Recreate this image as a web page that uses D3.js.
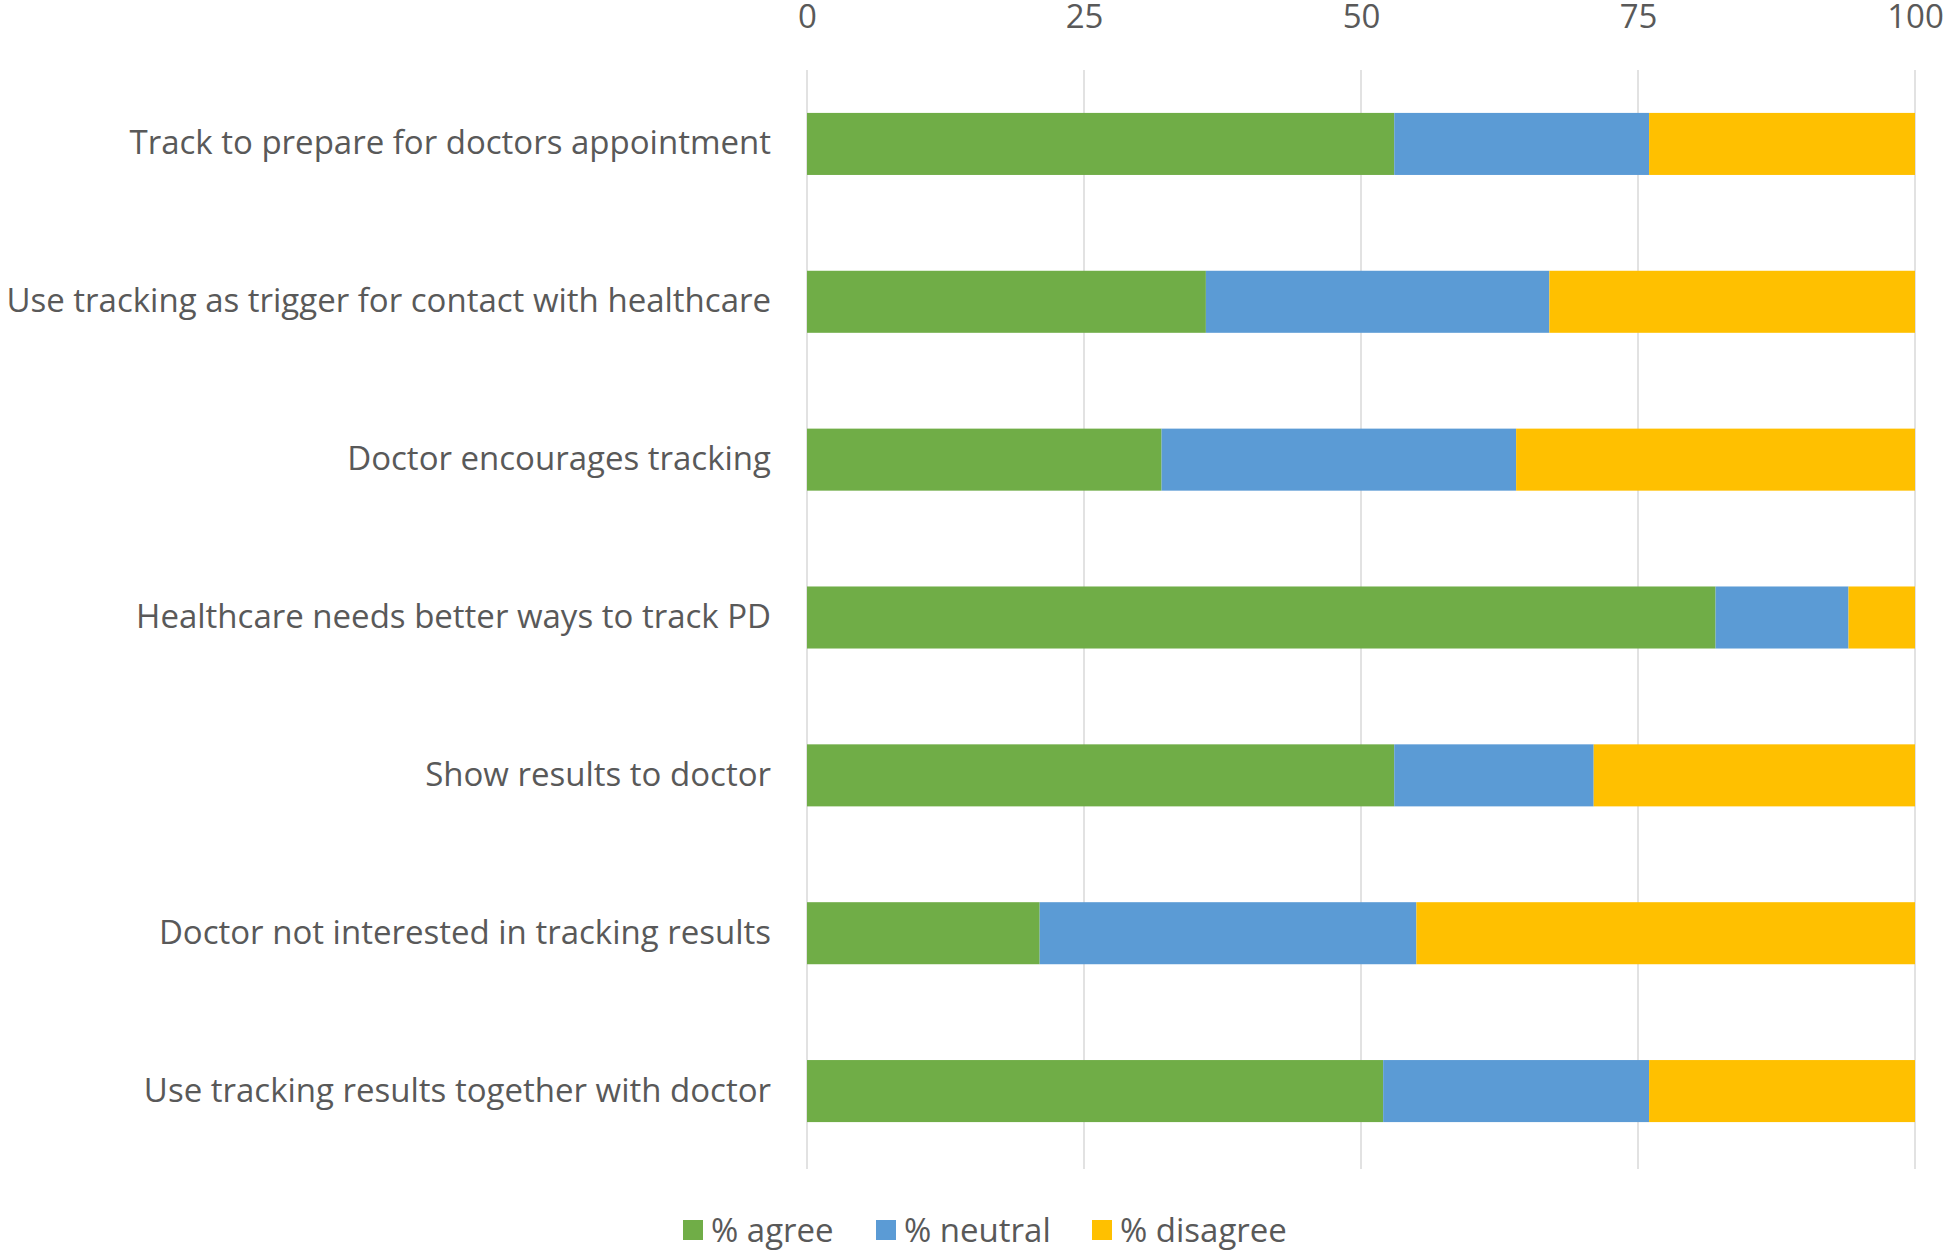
<!DOCTYPE html>
<html>
<head>
<meta charset="utf-8">
<script src="https://cdn.jsdelivr.net/npm/d3@7"></script>
<style>
  html, body { margin: 0; padding: 0; background: #fff; }
  svg { display: block; }
  text { font-family: "Open Sans", Lato, sans-serif; fill: #595959; }
</style>
</head>
<body>
<svg id="chart" width="1946" height="1251"></svg>
<script>
const categories = [
  "Track to prepare for doctors appointment",
  "Use tracking as trigger for contact with healthcare",
  "Doctor encourages tracking",
  "Healthcare needs better ways to track PD",
  "Show results to doctor",
  "Doctor not interested in tracking results",
  "Use tracking results together with doctor"
];
const seriesNames = ["% agree", "% neutral", "% disagree"];
const agree    = [53, 36, 32, 82, 53, 21, 52];
const neutral  = [23, 31, 32, 12, 18, 34, 24];
const disagree = [24, 33, 36,  6, 29, 45, 24];
const tickValues = [0, 25, 50, 75, 100];
const colors = ["#70AD47", "#5B9BD5", "#FFC000"];

const rows = categories.map((c, i) => ({
  category: c, "% agree": agree[i], "% neutral": neutral[i], "% disagree": disagree[i]
}));

const FONT = "'Open Sans', Lato, sans-serif";
const FS = 33;
const svg = d3.select("#chart");
const x = d3.scaleLinear().domain([0, 100]).range([807, 1915]);
const y = d3.scaleBand().domain(categories).range([65, 1170]).paddingInner(0.607).paddingOuter(0.3035);
const color = d3.scaleOrdinal().domain(seriesNames).range(colors);

// gridlines
svg.append("g").selectAll("line").data(tickValues).join("line")
  .attr("x1", d => x(d)).attr("x2", d => x(d))
  .attr("y1", 70).attr("y2", 1169)
  .attr("stroke", "#D9D9D9").attr("stroke-width", 1.5);

// top axis labels
const xAxis = d3.axisTop(x).tickValues(tickValues).tickSize(0).tickPadding(0);
const gx = svg.append("g").attr("transform", "translate(0,28)").call(xAxis);
gx.select(".domain").remove();
gx.selectAll("text").attr("font-size", FS).style("font-family", FONT).attr("fill", "#595959").attr("dy", 0);

// stacked bars
const stack = d3.stack().keys(seriesNames)(rows);
svg.append("g").selectAll("g").data(stack).join("g")
  .attr("fill", d => color(d.key))
  .selectAll("rect").data(d => d).join("rect")
  .attr("x", d => x(d[0]))
  .attr("width", d => x(d[1]) - x(d[0]))
  .attr("y", d => y(d.data.category))
  .attr("height", y.bandwidth());

// category labels
const yAxis = d3.axisLeft(y).tickSize(0).tickPadding(0);
const gy = svg.append("g").attr("transform", "translate(771,0)").call(yAxis);
gy.select(".domain").remove();
gy.selectAll("text").attr("font-size", FS).style("font-family", FONT).attr("fill", "#595959");

// legend
const legendX = [683, 876, 1092];
const lg = svg.append("g").selectAll("g").data(seriesNames).join("g")
  .attr("transform", (d, i) => `translate(${legendX[i]},1230)`);
lg.append("rect").attr("x", 0).attr("y", -10).attr("width", 20).attr("height", 20).attr("fill", d => color(d));
lg.append("text").attr("x", 28).attr("y", 0).attr("dy", "0.35em").attr("font-size", FS).style("font-family", FONT).text(d => d);
</script>
</body>
</html>
